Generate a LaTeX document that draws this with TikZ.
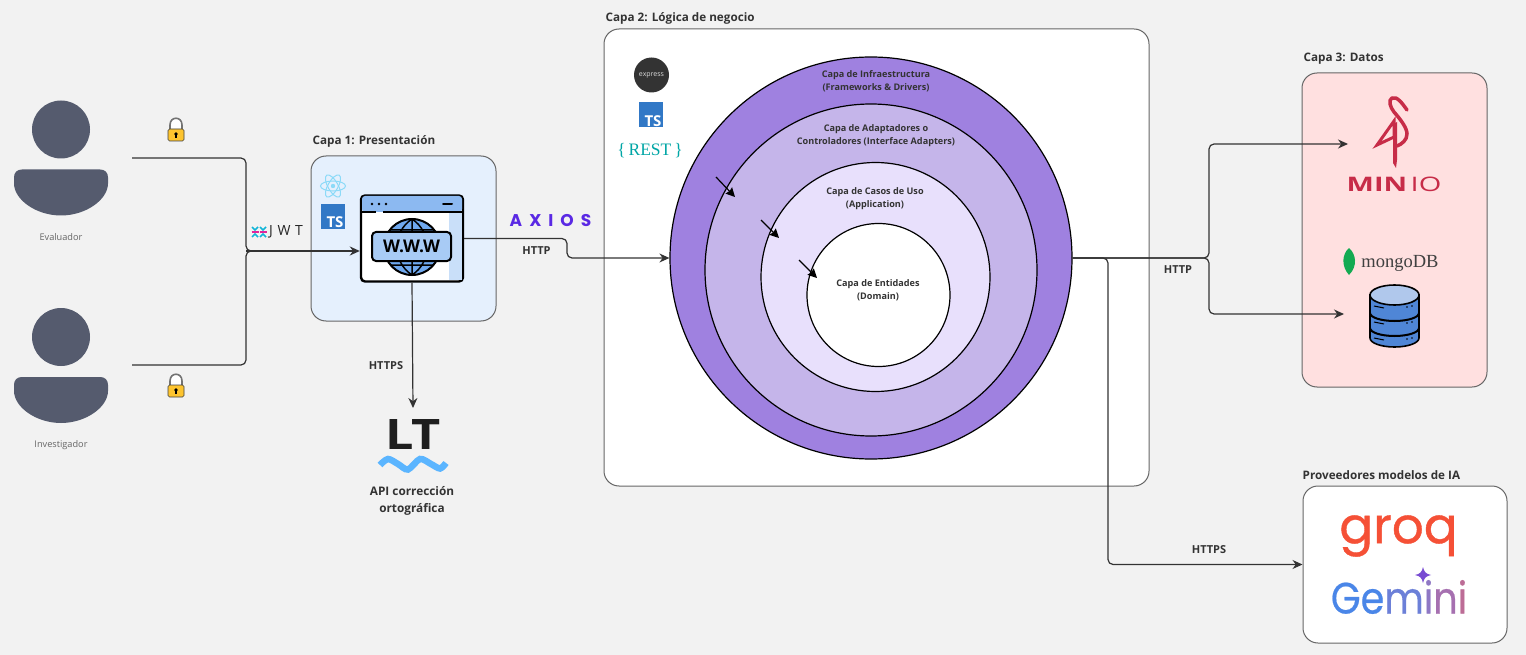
\documentclass[tikz,border=0pt]{standalone}
\usepackage{graphicx}
\usepackage{fontspec}
\setmainfont{Open Sans}
\newfontfamily\logofont{Poppins}
\newfontfamily\serifont{Liberation Serif}
\usetikzlibrary{arrows.meta,positioning}

\definecolor{canvas}{HTML}{F2F2F2}
\definecolor{inktext}{HTML}{333333}
\definecolor{panelline}{HTML}{666666}
\definecolor{personfill}{HTML}{555B6E}
\definecolor{tsblue}{HTML}{3178C6}
\definecolor{ringone}{HTML}{9F81E0}
\definecolor{ringtwo}{HTML}{C5B5EA}
\definecolor{ringthree}{HTML}{E8E0FC}
\definecolor{miniored}{HTML}{C72C48}
\definecolor{webblue}{HTML}{6FA8EE}
\definecolor{webbar}{HTML}{A8CBF5}
\definecolor{webstrip}{HTML}{C9DFF9}
\definecolor{frontfill}{HTML}{E5F0FD}
\definecolor{datafill}{HTML}{FFE0E0}
\definecolor{dbblue}{HTML}{4F86D6}
\definecolor{dbtop}{HTML}{B0C8EC}
\definecolor{lockgold}{HTML}{FDC42F}
\definecolor{wavesky}{HTML}{5BB5FF}
\definecolor{jwtpink}{HTML}{E0259B}
\definecolor{jwtcyan}{HTML}{12B5D8}

\begin{document}
\begin{tikzpicture}[
    x=1pt, y=-1pt,
    panel/.style={rectangle, rounded corners=15pt, draw=panelline, line width=1pt, inner sep=0pt},
    ring/.style={circle, draw=black, line width=1.2pt, inner sep=0pt},
    capalabel/.style={font=\fontsize{11.7}{14}\selectfont\bfseries, text=inktext, inner sep=0pt},
    linklabel/.style={font=\fontsize{11}{17}\selectfont\bfseries, text=inktext, inner sep=0pt, align=center},
    ringlabel/.style={font=\fontsize{9.1}{13}\selectfont\bfseries, text=black!80, inner sep=0pt, align=center},
    actorlabel/.style={font=\fontsize{9.2}{11}\selectfont, text=panelline, inner sep=0pt},
    link/.style={draw=inktext, line width=1.2pt, rounded corners=5pt, -{Stealth[length=10pt,width=9pt]}},
    plainlink/.style={draw=inktext, line width=1.2pt, rounded corners=5pt},
    layerarrow/.style={draw=black, line width=1.2pt, -{Stealth[length=9pt,width=9pt,inset=1pt]}},
    personicon/.pic={
      \fill[personfill] (0,0) circle[radius=29];
      \fill[personfill] (-39,40) -- (39,40) .. controls (44,40) and (47,43) .. (47,48) -- (47,54)
        .. controls (47,70) and (25,86) .. (0,86) .. controls (-25,86) and (-47,70) .. (-47,54)
        -- (-47,48) .. controls (-47,43) and (-44,40) .. (-39,40) -- cycle;
    },
    lockicon/.pic={
      \draw[black!55, line width=1.6pt, fill=white] (-6,-5) -- (-6,-10) .. controls (-6,-19) and (6,-19) .. (6,-10) -- (6,-5);
      \draw[black!75, line width=.7pt, fill=lockgold, rounded corners=1.5pt] (-8,-6) rectangle (8,6);
      \fill[black] (0,-1) circle[radius=1.8];
      \fill[black] (-.8,-1) rectangle (.8,3);
    },
    tsicon/.pic={
      \node[fill=tsblue, inner sep=0pt, minimum width=24pt, minimum height=25pt] (-box) at (0,0) {};
      \node[anchor=south east, inner sep=1pt, text=white, font=\fontsize{15}{15}\selectfont\bfseries] at (-box.south east) {TS};
    }
    ]

    \useasboundingbox[fill=canvas] (0,0) rectangle (1526,655);

    % Panels
    \node[panel, fill=frontfill, minimum width=185pt, minimum height=165pt] (capauno) at (403.5,238.5) {};
    \node[panel, fill=white, minimum width=545pt, minimum height=457pt] (capados) at (876.5,257.5) {};
    \node[panel, fill=datafill, minimum width=185pt, minimum height=314pt] (capatres) at (1394.5,230) {};
    \node[panel, fill=white, minimum width=204pt, minimum height=157pt] (proveedores) at (1405,564.5) {};

    % Panel titles
    \node[capalabel, above right=8pt and 2pt of capauno.north west] (capaunotitle) {Capa 1: Presentación};
    \node[capalabel, above right=4pt and 2pt of capados.north west] (capadostitle) {Capa 2: Lógica de negocio};
    \node[capalabel, above right=8pt and 2pt of capatres.north west] (capatrestitle) {Capa 3: Datos};
    \node[capalabel, above right=6pt and 0pt of proveedores.north west] (proveedorestitle) {Proveedores modelos de IA};

    % Actors
    \pic (evaluadoricon) at (61,129.5) {personicon};
    \pic (investigadoricon) at (61,337) {personicon};
    \node[actorlabel] (evaluador) at (61,237) {Evaluador};
    \node[actorlabel] (investigador) at (61,445.5) {Investigador};
    \coordinate (evaluadorout) at (132,158);
    \coordinate (investigadorout) at (132,365);
    \pic (locktop) at (176,135) {lockicon};
    \pic (lockbottom) at (176,391) {lockicon};

    % JWT mark
    \foreach \mx in {255,263}{
      \draw[jwtcyan, line width=1.5pt] (\mx-3,227) -- (\mx,230) -- (\mx+3,227) (\mx-3,237) -- (\mx,234) -- (\mx+3,237);
      \draw[jwtpink, line width=1.7pt] (\mx-3.5,232) -- (\mx+3.5,232);
    }
    \node[inner sep=0pt, font=\fontsize{14}{14}\selectfont, text=black!85] (jwt) at (286,232) {J\,\,W\,\,T};

    % Web app icon
    \node[rectangle, rounded corners=4pt, draw=black, line width=2.4pt, fill=white, minimum width=102pt, minimum height=86pt, inner sep=0pt] (www) at (412,238.5) {};
    \fill[webstrip] (449,212) rectangle (461.5,280);
    \fill[webblue!80!white, rounded corners=3pt] (362,196) rectangle (462,212);
    \draw[black, line width=2pt] (361,212) -- (376,212) (383,212) -- (463,212);
    \foreach \dotx in {372,379,386} \fill[black] (\dotx,204) circle[radius=1.4];
    \draw[black, line width=2pt, line cap=round] (443,204) -- (452,204);
    \draw[black, line width=2pt, fill=webblue] (412,247) circle[radius=28];
    \draw[black, line width=1.5pt] (412,219) -- (412,275) (412,219) .. controls (392,232) and (392,262) .. (412,275)
      (412,219) .. controls (432,232) and (432,262) .. (412,275) (390,230) -- (434,230) (390,265) -- (434,265);
    \node[rectangle, rounded corners=4pt, draw=black, line width=2pt, fill=webbar, minimum width=79pt, minimum height=29pt, inner sep=0pt, font=\fontsize{17.5}{18}\selectfont\bfseries] (wwwbar) at (411.5,246.5) {W.W.W};

    % React + TS
    \foreach \reactangle in {0,60,120}
      \draw[cyan!45!white, line width=1pt, rotate around={\reactangle:(333,186)}] (333,186) ellipse[x radius=12.5, y radius=5];
    \fill[cyan!45!white] (333,186) circle[radius=2.2];
    \pic (tsfront) at (332.5,216.5) {tsicon};

    % Back-end stack
    \node[circle, fill=black!80, minimum size=35pt, inner sep=0pt, text=black!15, font=\fontsize{7}{7}\selectfont] (express) at (651.5,75) {express};
    \pic (tsback) at (650.5,115) {tsicon};
    \node[inner sep=0pt, text=teal!70!cyan, font=\serifont\fontsize{17.5}{18}\selectfont] (rest) at (650,151) {\{\,REST\,\}};

    % Clean architecture rings
    \node[ring, fill=ringone, minimum size=402pt] (infra) at (871,258) {};
    \node[ring, fill=ringtwo, minimum size=332pt] (adapters) at (871,270) {};
    \node[ring, fill=ringthree, minimum size=229pt] (casos) at (875.5,277) {};
    \node[ring, fill=white, minimum size=143pt] (entidades) at (878.5,295) {};

    \node[ringlabel] (infralabel) at (876,81) {Capa de Infraestructura\\(Frameworks \& Drivers)};
    \node[ringlabel] (adapterslabel) at (876,136) {Capa de Adaptadores o\\Controladores (Interface Adapters)};
    \node[ringlabel] (casoslabel) at (875,199) {Capa de Casos de Uso\\(Application)};
    \node[ringlabel] (entidadeslabel) at (878,290) {Capa de Entidades\\(Domain)};

    % Dependency arrows between rings
    \coordinate (infrastart) at (716,177);
    \coordinate (infraend) at (735,197);
    \coordinate (adaptersstart) at (761,220);
    \coordinate (adaptersend) at (779,238);
    \coordinate (casosstart) at (799,260);
    \coordinate (casosend) at (817,278);
    \draw[layerarrow] (infrastart) -- (infraend);
    \draw[layerarrow] (adaptersstart) -- (adaptersend);
    \draw[layerarrow] (casosstart) -- (casosend);

    % Logos
    \definecolor{axiosviolet}{HTML}{5A29E4}
    \node[inner sep=0pt, text=axiosviolet, font=\logofont\fontsize{17}{17}\selectfont\bfseries] (axios) at (550.5,221) {A\hspace{7pt}X\hspace{7pt}I\hspace{7pt}O\hspace{7pt}S};

    \node[inner sep=0pt, font=\fontsize{42}{42}\selectfont\bfseries, text=black!88] (ltlogo) at (413,435) {\scalebox{1.2}[1]{\addfontfeature{LetterSpace=-4}LT}};
    \draw[wavesky, line width=6.5pt] plot[smooth] coordinates {(380,465) (388,459) (398,464) (408,469.5) (420,459) (431,464) (440,468.5) (446,463)};
    \node[linklabel, font=\fontsize{11.8}{17}\selectfont\bfseries] (ltname) at (412,500.5) {API corrección\\ortográfica};

    % MinIO bird
    \draw[miniored, line width=3.5pt, line cap=round, line join=round] (1407,110) .. controls (1402,103) and (1397,96) .. (1392,98)
      .. controls (1388,100) and (1390,107) .. (1394,112) .. controls (1401,120) and (1407,128) .. (1407,134) .. controls (1407,140) and (1402,144) .. (1397,146);
    \fill[miniored] (1393,124) -- (1397,122) -- (1397,160) -- (1396,168) -- (1393,163) -- cycle;
    \draw[miniored, line width=3pt, line join=miter] (1377,145) -- (1394,121) -- (1394,137) -- cycle;
    \node[inner sep=0pt, text=miniored] (minio) at (1394,184) {\scalebox{1.45}[1]{\fontsize{20}{20}\selectfont\bfseries MIN}\hspace{3.5pt}\scalebox{1.45}[1]{\fontsize{20}{20}\selectfont IO}};
    \coordinate (minioin) at (1348,144);

    % MongoDB + cylinder
    \definecolor{leafgreen}{HTML}{13AA52}
    \fill[leafgreen] (1349,248) .. controls (1356,254) and (1358,266) .. (1349,275) .. controls (1341,266) and (1342,254) .. (1349,248) -- cycle;
    \node[inner sep=0pt, text=black!75, font=\serifont\fontsize{18.5}{19}\selectfont] (mongo) at (1400,263) {mongoDB};
    \draw[black, line width=1.6pt, fill=dbblue] (1370,295) -- (1370,338) arc[start angle=180, end angle=0, x radius=24.5, y radius=9] -- (1419,295) -- cycle;
    \draw[black, line width=1.6pt, fill=dbtop] (1394.5,295) ellipse[x radius=24.5, y radius=10];
    \draw[black, line width=2pt] (1370,313) arc[start angle=180, end angle=0, x radius=24.5, y radius=8] (1370,328) arc[start angle=180, end angle=0, x radius=24.5, y radius=8];
    \foreach \dby in {306,322,338}{
      \draw[black, line width=1pt] (1374,\dby) -- (1384,\dby+2);
      \fill[black] (1407,\dby+1) circle[radius=.8] (1412,\dby) circle[radius=.8];
    }
    \coordinate (mongoin) at (1344,314);

    % Model providers
    \definecolor{groqred}{HTML}{F55036}
    \node[inner sep=0pt, text=groqred, font=\logofont\fontsize{50}{50}\selectfont] (groq) at (1398.5,536) {\addfontfeature{FakeBold=.8}groq};
    \fill[blue!50!violet!70!white] (1423,567) .. controls (1424,572) and (1426,574) .. (1431,575) .. controls (1426,576) and (1424,578) .. (1423,583)
      .. controls (1422,578) and (1420,576) .. (1415,575) .. controls (1420,574) and (1422,572) .. (1423,567) -- cycle;
    \definecolor{gemone}{HTML}{4A86E8}
    \definecolor{gemtwo}{HTML}{6C80D8}
    \definecolor{gemthree}{HTML}{8F78C4}
    \definecolor{gemfour}{HTML}{A670B0}
    \definecolor{gemfive}{HTML}{BC6C96}
    \node[inner sep=0pt, font=\logofont\fontsize{44}{44}\selectfont] (gemini) at (1399,597) {\scalebox{.87}[1]{\addfontfeature{FakeBold=.5}\textcolor{gemone}{Ge}\textcolor{gemtwo}{m}\textcolor{gemthree}{i}\textcolor{gemfour}{n}\textcolor{gemfive}{i}}};

    % Connectors
    \coordinate (jwtjoin) at (246,251);
    \coordinate (jwtrun) at (258,251);
    \draw[plainlink] (evaluadorout) -| (jwtjoin) -- (jwtrun);
    \draw[plainlink] (investigadorout) -| (jwtjoin) -- (jwtrun);
    \draw[link, line width=1.8pt] (jwtjoin) -- (www.west |- jwtjoin);

    \coordinate (axiosbend) at (567,248);
    \draw[link] (www.east) -| (axiosbend) |- (infra.west);
    \node[linklabel] (httpfront) at (536.5,251) {HTTP};

    \coordinate (ltin) at (413,408);
    \draw[link] (www.south) -- (ltin);
    \node[linklabel] (httpsfront) at (386,366) {HTTPS};

    \coordinate (datajoin) at (1209,258);
    \draw[link] (infra.east) -- (datajoin) |- (minioin);
    \draw[link] (infra.east) -- (datajoin) |- (mongoin);
    \node[linklabel] (httpdata) at (1178,270) {HTTP};

    \coordinate (iabranch) at (1108,400);
    \draw[link] (infra.east) -| (iabranch) |- (proveedores.west);
    \node[linklabel] (httpsia) at (1209,550) {HTTPS};

  \end{tikzpicture}
\end{document}
